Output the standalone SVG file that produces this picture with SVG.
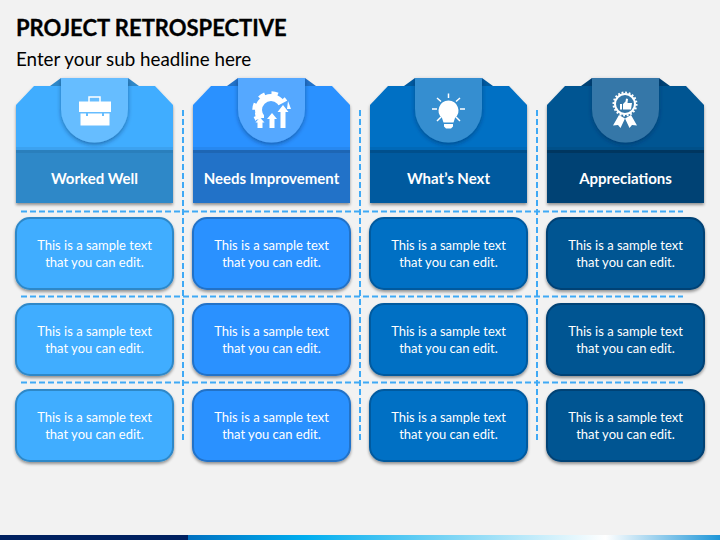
<svg xmlns="http://www.w3.org/2000/svg" width="720" height="540" viewBox="0 0 720 540">
<style>
text{font-family:"Lato","Open Sans","Liberation Sans",sans-serif;fill:#fff;text-anchor:middle}
.title{font-size:22px;font-weight:700;fill:#000;text-anchor:start;stroke:#000;stroke-width:.3}
.sub{font-size:18.800px;fill:#000;text-anchor:start}
.head{font-size:15px;font-weight:700}
.card{font-size:13px}
.dash{fill:none;stroke:#3fa9f5;stroke-width:2;stroke-dasharray:6 3}
.c1{fill:#3fadff}.c2{fill:#2a91ff}.c3{fill:#0070c4}.c4{fill:#005492}
.b1{fill:#2e88c8}.b2{fill:#2272c8}.b3{fill:#005a9f}.b4{fill:#004274}
.t1{fill:#66bdff}.t2{fill:#55a8ff}.t3{fill:#348ed0}.t4{fill:#3677a8}
.s1{stroke:#2e88c8}.s2{stroke:#2272c8}.s3{stroke:#005a9f}.s4{stroke:#004274}
.k{stroke-width:2}
.ic{fill:#fff}.il{stroke:#fff;fill:none}
</style>
<defs>
<filter id="sh" x="-10%" y="-10%" width="120%" height="125%"><feDropShadow dx="0" dy="2" stdDeviation="1.500" flood-color="#000" flood-opacity=".4"/></filter>
<filter id="ts" x="-20%" y="-10%" width="140%" height="125%"><feDropShadow dx="0" dy="2" stdDeviation="2" flood-color="#00284d" flood-opacity=".45"/></filter>
<linearGradient id="bar" x1="0" x2="1" y1="0" y2="0">
<stop offset="0" stop-color="#0070c0"/><stop offset=".22" stop-color="#00aeef"/><stop offset=".5" stop-color="#7fd6f5"/><stop offset=".785" stop-color="#ffffff"/><stop offset="1" stop-color="#1e96d8"/>
</linearGradient>
<path id="hd" d="M34 86H155L173 105V203H16V105Z"/>
<path id="tab" d="M61 78H128V109A33.500 33.500 0 0 1 61 109Z"/>
</defs>
<rect width="720" height="540" fill="#f2f2f2"/>
<text class="title" x="16" y="36">PROJECT RETROSPECTIVE</text>
<text class="sub" x="16" y="66">Enter your sub headline here</text>
<g id="connectors">
<path class="dash" d="M21 211.500H683M21 296.500H683M21 382.500H683"/>
<path class="dash" d="M183 110V442M360 110V442M537 110V442"/>
</g>
<g id="head-1">
<use href="#hd" class="c1" filter="url(#sh)"/><path d="M50 86L61 78H128L139 86Z" fill="#2e88c8"/>
<rect x="16" y="147" width="157" height="3" fill="#000" opacity=".06"/>
<rect x="16" y="153" width="157" height="50" class="b1"/><rect x="16" y="150" width="157" height="3" fill="#2a7fbc"/>
<use href="#tab" class="t1" filter="url(#ts)"/>
<g id="icon-case"><path class="il" stroke-width="1.500" d="M89 102V97H100V102"/><path class="ic" d="M79 101.500H111V112H79ZM80.500 113.500H86V116H88V113.500H102V116H104V113.500H109.500V125.500H80.500Z"/></g>
<text class="head" x="94.500" y="183.500">Worked Well</text>
</g>
<g id="head-2" transform="translate(177)">
<use href="#hd" class="c2" filter="url(#sh)"/><path d="M50 86L61 78H128L139 86Z" fill="#2272c8"/>
<rect x="16" y="147" width="157" height="3" fill="#000" opacity=".06"/>
<rect x="16" y="153" width="157" height="50" class="b2"/><rect x="16" y="150" width="157" height="3" fill="#1e66b4"/>
<use href="#tab" class="t2" filter="url(#ts)"/>
<g id="icon-gear" transform="translate(-177)">
<circle cx="271" cy="110" r="12.500" fill="none" stroke="#fff" stroke-width="7"/>
<circle cx="271" cy="110" r="17" fill="none" stroke="#fff" stroke-width="3.500" stroke-dasharray="6.500 6.850"/>
<path d="M256 118H296V132H256ZM264 112L279 105L296 96V118H264Z" class="t2"/>
<path class="ic" d="M260 117.500L255.500 122.500H257.500V128H262.500V122.500H264.500ZM272 113L267 119H269.500V128H274.500V119H277ZM283 105L277.500 112H280.500V128H285.500V112H288.500Z"/>
<path class="ic" d="M255 113L259 113L262 118L256 120ZM288 101L291 109H287Z"/>
</g>
<text class="head" x="94.500" y="183.500">Needs Improvement</text>
</g>
<g id="head-3" transform="translate(354)">
<use href="#hd" class="c3" filter="url(#sh)"/><path d="M50 86L61 78H128L139 86Z" fill="#005a9f"/>
<rect x="16" y="147" width="157" height="3" fill="#000" opacity=".06"/>
<rect x="16" y="153" width="157" height="50" class="b3"/><rect x="16" y="150" width="157" height="3" fill="#004f8c"/>
<use href="#tab" class="t3" filter="url(#ts)"/>
<g id="icon-bulb" transform="translate(-354)">
<path class="ic" d="M448.500 101A10 10 0 0 1 455 118.500L453.500 123H443.500L442 118.500A10 10 0 0 1 448.500 101ZM444 124.500H453V127L451 129H446L444 127Z" transform="translate(0 -0.500)"/>
<path class="il" stroke-width="1.500" d="M448.500 93.500V98M437 98L441 101.500M460 98L456 101.500M432 109H437M460 109H465M437 121L441 117M460 121L456 117"/>
</g>
<text class="head" x="94.500" y="183.500">What’s Next</text>
</g>
<g id="head-4" transform="translate(531)">
<use href="#hd" class="c4" filter="url(#sh)"/><path d="M50 86L61 78H128L139 86Z" fill="#004274"/>
<rect x="16" y="147" width="157" height="3" fill="#000" opacity=".06"/>
<rect x="16" y="153" width="157" height="50" class="b4"/><rect x="16" y="150" width="157" height="3" fill="#00365f"/>
<use href="#tab" class="t4" filter="url(#ts)"/>
<g id="icon-award" transform="translate(-531)">
<circle cx="625" cy="104" r="10" fill="none" stroke="#fff" stroke-width="2"/>
<circle cx="625" cy="104" r="11.500" fill="none" stroke="#fff" stroke-width="2" stroke-dasharray="1.800 1.800"/>
<path class="ic" d="M620 104H622V109.500H620ZM623 104L625.500 101.500L626 98.500L628 99L627.500 103H632L631 109.500H623Z"/>
<path class="ic" d="M619 115L613 125.500L618 125L620.500 128L625 118.500ZM631 115L637 125.500L632 125L629.500 128L625 118.500Z"/>
</g>
<text class="head" x="94.500" y="183.500">Appreciations</text>
</g>
<g id="cards">
<g id="r1c1"><rect x="16" y="218" width="157" height="71" rx="14" class="c1 s1 k" filter="url(#sh)"/><text class="card" x="94.500" y="250">This is a sample text</text><text class="card" x="94.500" y="267">that you can edit.</text></g>
<g id="r1c2"><rect x="193" y="218" width="157" height="71" rx="14" class="c2 s2 k" filter="url(#sh)"/><text class="card" x="271.500" y="250">This is a sample text</text><text class="card" x="271.500" y="267">that you can edit.</text></g>
<g id="r1c3"><rect x="370" y="218" width="157" height="71" rx="14" class="c3 s3 k" filter="url(#sh)"/><text class="card" x="448.500" y="250">This is a sample text</text><text class="card" x="448.500" y="267">that you can edit.</text></g>
<g id="r1c4"><rect x="547" y="218" width="157" height="71" rx="14" class="c4 s4 k" filter="url(#sh)"/><text class="card" x="625.500" y="250">This is a sample text</text><text class="card" x="625.500" y="267">that you can edit.</text></g>
<g id="r2c1"><rect x="16" y="304" width="157" height="71" rx="14" class="c1 s1 k" filter="url(#sh)"/><text class="card" x="94.500" y="336">This is a sample text</text><text class="card" x="94.500" y="353">that you can edit.</text></g>
<g id="r2c2"><rect x="193" y="304" width="157" height="71" rx="14" class="c2 s2 k" filter="url(#sh)"/><text class="card" x="271.500" y="336">This is a sample text</text><text class="card" x="271.500" y="353">that you can edit.</text></g>
<g id="r2c3"><rect x="370" y="304" width="157" height="71" rx="14" class="c3 s3 k" filter="url(#sh)"/><text class="card" x="448.500" y="336">This is a sample text</text><text class="card" x="448.500" y="353">that you can edit.</text></g>
<g id="r2c4"><rect x="547" y="304" width="157" height="71" rx="14" class="c4 s4 k" filter="url(#sh)"/><text class="card" x="625.500" y="336">This is a sample text</text><text class="card" x="625.500" y="353">that you can edit.</text></g>
<g id="r3c1"><rect x="16" y="390" width="157" height="71" rx="14" class="c1 s1 k" filter="url(#sh)"/><text class="card" x="94.500" y="422">This is a sample text</text><text class="card" x="94.500" y="439">that you can edit.</text></g>
<g id="r3c2"><rect x="193" y="390" width="157" height="71" rx="14" class="c2 s2 k" filter="url(#sh)"/><text class="card" x="271.500" y="422">This is a sample text</text><text class="card" x="271.500" y="439">that you can edit.</text></g>
<g id="r3c3"><rect x="370" y="390" width="157" height="71" rx="14" class="c3 s3 k" filter="url(#sh)"/><text class="card" x="448.500" y="422">This is a sample text</text><text class="card" x="448.500" y="439">that you can edit.</text></g>
<g id="r3c4"><rect x="547" y="390" width="157" height="71" rx="14" class="c4 s4 k" filter="url(#sh)"/><text class="card" x="625.500" y="422">This is a sample text</text><text class="card" x="625.500" y="439">that you can edit.</text></g>
</g>
<rect y="535" width="188" height="5" fill="#002060"/>
<rect x="188" y="535" width="532" height="5" fill="url(#bar)"/>
</svg>
